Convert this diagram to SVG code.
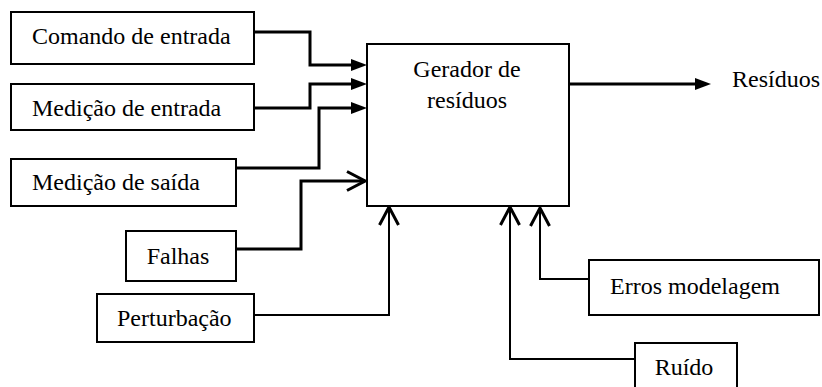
<svg xmlns="http://www.w3.org/2000/svg" width="822" height="387" viewBox="0 0 822 387">
  <style>
    .box { fill: #fff; stroke: #000; stroke-width: 2; }
    .lbl { font-family: "Liberation Serif", "Times New Roman", serif; font-size: 24px; fill: #000; }
    .mid { text-anchor: middle; }
    .wire { fill: none; stroke: #000; stroke-width: 3; }
    .thin { stroke-width: 2; }
    .solid { marker-end: url(#solid); }
    .open { marker-end: url(#open); }
  </style>
  <defs>
    <!-- filled triangle, base placed at the path end -->
    <marker id="solid" viewBox="0 0 16 12" refX="0" refY="6" markerWidth="16" markerHeight="12" markerUnits="userSpaceOnUse" orient="auto">
      <path d="M0,0 L16,6 L0,12 Z" fill="#000"/>
    </marker>
    <!-- open chevron, tip placed at the path end -->
    <marker id="open" viewBox="-2 -2 22 23" refX="18" refY="9.5" markerWidth="22" markerHeight="23" markerUnits="userSpaceOnUse" orient="auto">
      <path d="M0,0 L18,9.5 L0,19" fill="none" stroke="#000" stroke-width="3"/>
    </marker>
  </defs>
  <rect width="822" height="387" fill="#fff"/>

  <!-- connectors -->
  <g id="connectors">
    <path class="wire solid" d="M254,32 H310 V65 H351"/>
    <path class="wire solid" d="M254,108 H310 V84 H351"/>
    <path class="wire solid" d="M236,168 H319 V108 H351"/>
    <path class="wire open" d="M236,249 H301 V181 H365"/>
    <path class="wire thin open" d="M254,315 H389 V207"/>
    <path class="wire thin open" d="M635,359 H510 V207"/>
    <path class="wire thin open" d="M589,279 H540 V208"/>
    <path class="wire solid" d="M569,84 H695"/>
  </g>

  <g id="comando">
    <rect class="box" x="11" y="12" width="243" height="52"/>
    <text class="lbl" x="32" y="44">Comando de entrada</text>
  </g>
  <g id="medicao-entrada">
    <rect class="box" x="11" y="84" width="243" height="46"/>
    <text class="lbl" x="32" y="116">Medição de entrada</text>
  </g>
  <g id="medicao-saida">
    <rect class="box" x="11" y="159" width="225" height="47"/>
    <text class="lbl" x="32" y="190">Medição de saída</text>
  </g>
  <g id="falhas">
    <rect class="box" x="126" y="231" width="110" height="50"/>
    <text class="lbl mid" x="178" y="264">Falhas</text>
  </g>
  <g id="perturbacao">
    <rect class="box" x="97" y="294" width="157" height="48"/>
    <text class="lbl" x="117" y="326">Perturbação</text>
  </g>
  <g id="gerador">
    <rect class="box" x="367" y="44" width="202" height="162"/>
    <text class="lbl mid" x="467" y="77">Gerador de</text>
    <text class="lbl mid" x="467" y="108">resíduos</text>
  </g>
  <g id="residuos">
    <text class="lbl" x="732" y="87">Resíduos</text>
  </g>
  <g id="erros">
    <rect class="box" x="589" y="260" width="230" height="55"/>
    <text class="lbl" x="610" y="294">Erros modelagem</text>
  </g>
  <g id="ruido">
    <rect class="box" x="635" y="343" width="102" height="60"/>
    <text class="lbl mid" x="684" y="375">Ruído</text>
  </g>
</svg>
